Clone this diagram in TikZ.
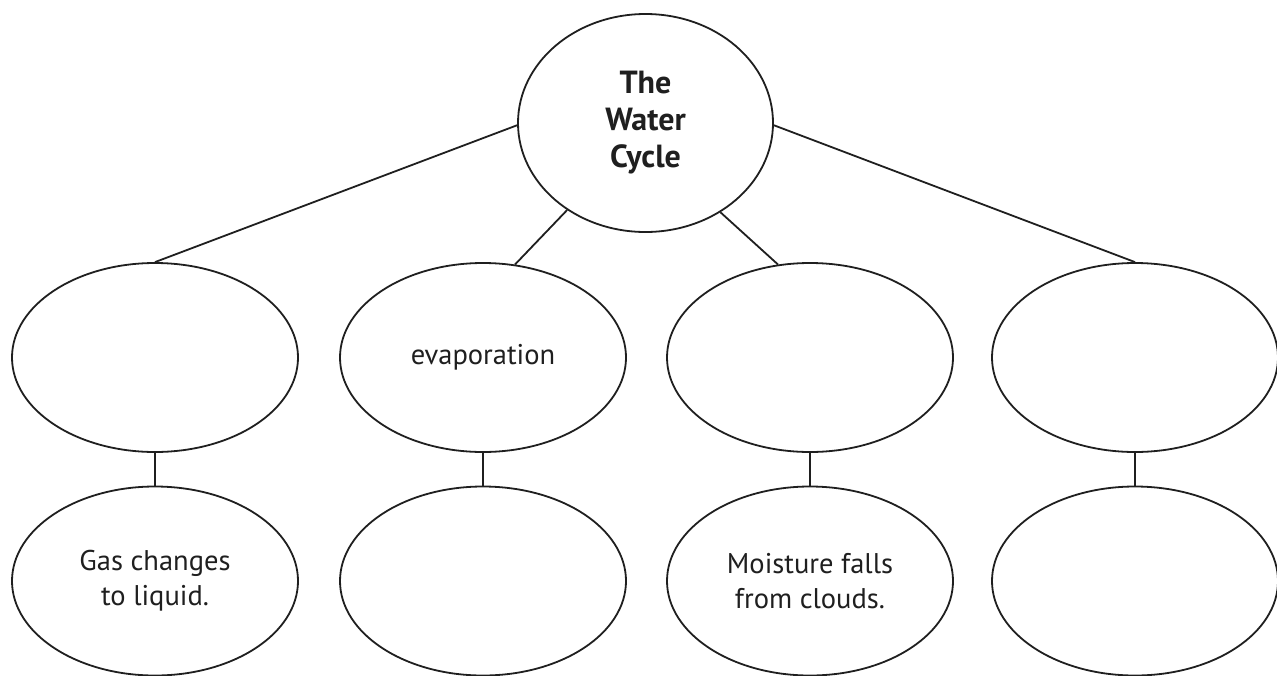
\documentclass[tikz,border=0pt]{standalone}
\usepackage{fontspec}
\setmainfont{PT Sans}
\usetikzlibrary{shapes.geometric}
\begin{document}
\begin{tikzpicture}[x=1pt,y=-1pt,
  oval/.style={draw=black!88,line width=1.8pt,ellipse,inner sep=0pt,minimum width=286pt,minimum height=189pt,align=center,font=\fontsize{28.5}{35}\selectfont,text=black!88},
  link/.style={draw=black!88,line width=1.8pt}]
\useasboundingbox (0,0) rectangle (1277,675);
\node[oval,minimum width=255pt,minimum height=218pt,font=\bfseries\fontsize{32}{37}\selectfont] (top) at (645.5,123) {The\\Water\\Cycle};
\node[oval] (a1) at (155,357.5) {};
\node[oval] (a2) at (483,357.5) {evaporation};
\node[oval] (a3) at (810,357.5) {};
\node[oval] (a4) at (1135,357.5) {};
\node[oval] (b1) at (155,581) {Gas changes\\to liquid.};
\node[oval] (b2) at (483,581) {};
\node[oval] (b3) at (810,581) {Moisture falls\\from clouds.};
\node[oval] (b4) at (1135,581) {};
\draw[link] (top.181) -- (a1.north);
\draw[link] (top.228) -- (a2.71);
\draw[link] (top.310) -- (a3.109);
\draw[link] (top.359) -- (a4.north);
\draw[link] (a1.south) -- (b1.north);
\draw[link] (a2.south) -- (b2.north);
\draw[link] (a3.south) -- (b3.north);
\draw[link] (a4.south) -- (b4.north);
\end{tikzpicture}
\end{document}
